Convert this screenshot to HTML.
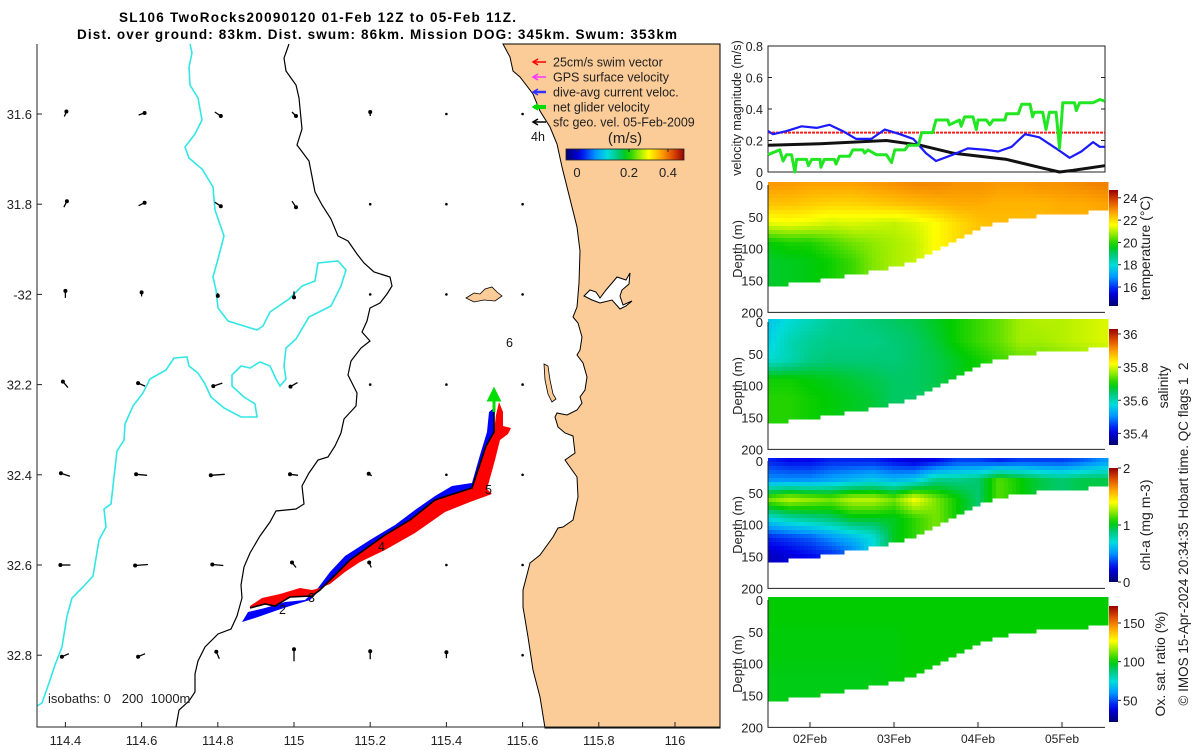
<!DOCTYPE html>
<html><head><meta charset="utf-8"><title>SL106 TwoRocks glider</title>
<style>
html,body{margin:0;padding:0;background:#fff;width:1200px;height:750px;overflow:hidden}
svg{display:block;font-family:"Liberation Sans","DejaVu Sans",sans-serif}
</style></head>
<body>
<svg id="fig" width="1200" height="750" viewBox="0 0 1200 750">
<text x="119" y="22" font-size="13.5" font-weight="bold" textLength="397">SL106 TwoRocks20090120 01-Feb 12Z to 05-Feb 11Z.</text>
<text x="77" y="39" font-size="13.5" font-weight="bold" textLength="600">Dist. over ground: 83km. Dist. swum: 86km. Mission DOG: 345km. Swum: 353km</text>
<g id="map"></g>
<g id="vel"></g>
<g id="sec"></g>
<text transform="translate(1188,534) rotate(-90)" font-size="13.5" text-anchor="middle" fill="#222" style="white-space:pre">© IMOS 15-Apr-2024 20:34:35 Hobart time. QC flags 1  2</text>
</svg>
<script>
// ---------------- DATA ----------------
const lonTicks=[114.4,114.6,114.8,115,115.2,115.4,115.6,115.8,116];
const latTicks=[31.6,31.8,32.0,32.2,32.4,32.6,32.8];
const latLabels=["31.6","31.8","-32","32.2","32.4","32.6","32.8"];
const arrowLons=[114.4,114.6,114.8,115,115.2,115.4,115.6];
const arrowU=[[2,6,6,4,0,0,0],[3,6,6,4,0,0,0],[0,0,0,0,0,0,0],[-5,-7,-9,-7,0,0,0],[-9,-11,-14,-8,-3,0,0],[-10,-13,-11,-4,-2,0,0],[-7,-7,-3,0,0,0,0]];
const arrowV=[[5,2,-4,-4,4,0,0],[6,3,-4,-6,0,0,0],[7,4,-3,-6,0,0,0],[6,3,-3,-4,0,0,0],[3,1,-1,1,2,0,0],[0,-1,1,5,5,0,0],[-3,-3,7,12,8,6,0]];
const netT=[1.50,1.64,1.68,1.72,1.78,1.82,1.84,1.96,1.98,2.02,2.12,2.13,2.17,2.29,2.31,2.35,2.47,2.51,2.63,2.65,2.69,2.79,2.91,2.97,3.01,3.13,3.17,3.29,3.33,3.46,3.50,3.64,3.66,3.78,3.80,3.84,3.94,3.98,4.00,4.10,4.14,4.18,4.32,4.34,4.48,4.52,4.62,4.65,4.67,4.77,4.81,4.85,4.93,4.97,5.01,5.15,5.17,5.21,5.37,5.45,5.51];
const netV=[0.11,0.14,0.07,0.11,0.11,0.00,0.08,0.08,0.04,0.08,0.08,0.03,0.08,0.08,0.05,0.10,0.10,0.14,0.14,0.12,0.14,0.11,0.11,0.06,0.14,0.14,0.17,0.17,0.25,0.25,0.33,0.33,0.30,0.33,0.29,0.35,0.35,0.27,0.33,0.33,0.30,0.33,0.33,0.37,0.37,0.43,0.43,0.35,0.38,0.38,0.27,0.38,0.38,0.15,0.44,0.44,0.39,0.44,0.44,0.46,0.45];
const curT=[1.50,1.56,1.72,1.90,2.08,2.23,2.39,2.55,2.73,2.89,3.07,3.23,3.38,3.50,3.70,3.88,4.10,4.24,4.40,4.56,4.73,4.93,5.09,5.23,5.37,5.45,5.51];
const curV=[0.26,0.24,0.26,0.29,0.28,0.30,0.26,0.21,0.21,0.27,0.24,0.21,0.12,0.07,0.11,0.15,0.14,0.13,0.16,0.24,0.22,0.15,0.09,0.13,0.19,0.16,0.16];
const geoT=[1.50,2.12,2.91,3.31,3.70,4.34,4.73,4.97,5.13,5.51];
const geoV=[0.17,0.18,0.20,0.17,0.12,0.08,0.03,0.00,0.01,0.04];
const swimV=0.25;
const velTicks=[0,0.2,0.4,0.6,0.8];
const secT=[1.5,1.75,2.0,2.25,2.5,2.75,3.0,3.25,3.5,3.75,4.0,4.25,4.5,4.75,5.0,5.25,5.5];
const bottomDepth=[155,152,148,143,138,132,125,115,100,82,66,55,48,45,42,40,37];
const knotDepth=[0,30,60,90,120,150];
const tempVals=[[22.8,22.3,21.4,19.7,19.4,19.4],[22.8,22.3,21.5,19.9,19.5,19.5],[22.7,22.2,21.4,19.9,19.6,19.6],[22.7,22.1,21.2,20.2,19.8,19.8],[22.7,22.1,21.3,20.5,20.1,20.1],[22.8,22.2,21.2,20.7,20.6,20.6],[22.9,22.3,21.1,20.9,20.9,20.9],[23.0,22.4,21.3,21.1,21.1,21.1],[23.0,22.5,21.6,21.6,21.6,21.6],[22.9,22.6,22.0,22.0,22.0,22.0],[22.9,22.6,22.3,22.3,22.3,22.3],[22.8,22.5,22.4,22.4,22.4,22.4],[22.8,22.5,22.4,22.4,22.4,22.4],[22.9,22.5,22.4,22.4,22.4,22.4],[22.9,22.6,22.5,22.5,22.5,22.5],[23.0,22.6,22.5,22.5,22.5,22.5],[23.1,22.7,22.6,22.6,22.6,22.6]];
const salVals=[[35.55,35.56,35.58,35.70,35.71,35.71],[35.58,35.60,35.60,35.70,35.71,35.71],[35.60,35.62,35.63,35.69,35.70,35.70],[35.62,35.63,35.64,35.68,35.69,35.69],[35.63,35.63,35.64,35.67,35.68,35.68],[35.64,35.63,35.64,35.66,35.67,35.67],[35.65,35.64,35.64,35.65,35.65,35.65],[35.66,35.65,35.65,35.65,35.65,35.65],[35.68,35.67,35.66,35.66,35.66,35.66],[35.70,35.70,35.68,35.68,35.68,35.68],[35.72,35.72,35.70,35.70,35.70,35.70],[35.74,35.74,35.72,35.72,35.72,35.72],[35.77,35.77,35.74,35.74,35.74,35.74],[35.78,35.77,35.74,35.74,35.74,35.74],[35.78,35.78,35.75,35.75,35.75,35.75],[35.79,35.79,35.76,35.76,35.76,35.76],[35.80,35.80,35.77,35.77,35.77,35.77]];
const chlVals=[[0.3,0.5,1.2,0.7,0.3,0.15],[0.25,0.5,1.3,0.8,0.35,0.2],[0.25,0.5,1.25,0.85,0.4,0.25],[0.3,0.55,1.2,0.9,0.5,0.3],[0.3,0.6,1.3,1.0,0.6,0.4],[0.3,0.65,1.3,1.0,0.7,0.7],[0.25,0.6,1.2,1.0,1.0,1.0],[0.2,0.65,1.4,1.1,1.1,1.1],[0.25,0.85,1.2,1.2,1.2,1.2],[0.35,0.85,1.05,1.05,1.05,1.05],[0.35,0.9,0.9,0.9,0.9,0.9],[0.3,1.15,1.15,1.15,1.15,1.15],[0.35,1.05,1.05,1.05,1.05,1.05],[0.35,0.95,0.95,0.95,0.95,0.95],[0.35,0.9,0.9,0.9,0.9,0.9],[0.4,0.95,0.95,0.95,0.95,0.95],[0.5,0.95,0.95,0.95,0.95,0.95]];
const oxVals=[[100,100,99,99,98,98],[100,100,99,99,98,98],[100,100,99,99,98,98],[100,100,99,99,98,98],[100,100,99,99,98,98],[100,100,99,99,98,98],[100,100,99,99,99,99],[100,100,100,100,100,100],[100,100,100,100,100,100],[100,100,100,100,100,100],[100,100,100,100,100,100],[100,100,100,100,100,100],[100,100,100,100,100,100],[100,100,100,100,100,100],[100,100,100,100,100,100],[100,100,100,100,100,100],[100,100,100,100,100,100]];
const dateLabels=["02Feb","03Feb","04Feb","05Feb"];
const dateDays=[2,3,4,5];

// ---------------- HELPERS ----------------
const NS="http://www.w3.org/2000/svg";
function mk(parent,tag,attrs,text){const e=document.createElementNS(NS,tag);for(const k in attrs)e.setAttribute(k,attrs[k]);if(text!==undefined)e.textContent=text;parent.appendChild(e);return e;}
const cmapStops=[[0,[0,0,110]],[0.12,[0,0,235]],[0.25,[0,150,255]],[0.35,[0,220,220]],[0.45,[0,200,110]],[0.52,[0,204,0]],[0.62,[150,235,0]],[0.7,[255,255,0]],[0.8,[255,170,0]],[0.9,[224,80,0]],[1,[150,0,0]]];
function jet(t){t=Math.max(0,Math.min(1,t));let i=0;while(i<cmapStops.length-2&&cmapStops[i+1][0]<t)i++;
 const a=cmapStops[i],b=cmapStops[i+1];const f=(t-a[0])/(b[0]-a[0]);
 const c=k=>Math.round(a[1][k]+(b[1][k]-a[1][k])*f);return `rgb(${c(0)},${c(1)},${c(2)})`;}
const lonX=lon=>294+(lon-115)*381;
const latY=lat=>114+(lat-31.6)*451;
const dayX=d=>810+(d-2)*84;

// ---------------- MAP ----------------
const map=document.getElementById('map');
const landPts="503,44 510,57 513,71 520,77 533,94 540,111 550,127 557,144 562,167 567,187 572,207 577,227 580,251 579,283 577,307 573,317 578,323 582,337 580,350 577,355 583,363 587,377 585,390 580,397 582,403 577,410 567,415 557,413 555,417 558,427 565,433 573,436 575,453 565,460 577,477 578,497 573,520 563,527 558,528 553,537 540,555 530,563 523,590 523,607 528,637 533,670 540,697 545,728 720,728 720,44";
let e=mk(map,'polygon',{points:landPts,fill:'#fbcb98',stroke:'#000','stroke-width':1});

e=mk(map,'polygon',{points:"584,296 590,290 596,292 600,298 606,290 612,283 617,277 626,280 630,273 629,284 622,290 620,296 623,305 632,301 626,306 620,309 612,300 600,303 592,300",fill:'#fff',stroke:'#000','stroke-width':1});

e=mk(map,'polygon',{points:"466,298 474,293 480,294 485,289 492,287 497,292 502,296 495,301 484,300 474,302",fill:'#fbcb98',stroke:'#000','stroke-width':0.8});

e=mk(map,'polygon',{points:"544,364 548,366 550,380 553,394 556,399 552,402 548,394 545,380",fill:'#fbcb98',stroke:'#000','stroke-width':0.8});

const cyanPts="190,44 192,53 189,67 190,85 198,98 202,120 195,134 185,147 189,158 202,169 213,187 215,210 224,236 218,259 213,277 216,290 218,308 228,321 244,326 257,330 263,326 270,312 289,299 302,286 315,281 318,263 338,261 346,270 341,286 331,306 309,317 296,339 286,348 284,366 286,379 280,386 276,379 270,366 260,362 250,368 241,366 232,375 232,386 244,397 255,404 257,417 241,417 224,408 211,397 205,384 198,373 189,366 187,357 174,358 166,370 150,379 143,393 133,406 125,424 124,440 117,451 114,477 111,504 104,509 106,527 99,540 93,576 83,587 72,598 67,616 62,647 55,665 49,683 42,703 37,706";
e=mk(map,'polyline',{points:cyanPts,fill:'none',stroke:'#33e6e6','stroke-width':1.6});

const blackPts="289,44 284,58 286,71 296,85 299,98 302,129 297,145 309,161 315,192 322,205 331,219 338,236 348,241 357,254 364,263 374,272 390,277 392,286 387,294 380,303 370,308 367,321 362,332 370,341 361,348 351,361 348,375 357,393 356,406 344,419 341,433 335,446 328,457 318,460 309,473 302,486 304,504 296,509 276,511 270,522 260,536 250,553 244,567 241,585 242,598 237,616 231,629 218,634 205,647 198,661 195,674 195,692 189,701 179,710 176,727";
e=mk(map,'polyline',{points:blackPts,fill:'none',stroke:'#000','stroke-width':1.2});

e=mk(map,'path',{d:'M37,44 V727 H720',fill:'none',stroke:'#222','stroke-width':1});

lonTicks.forEach(l=>{const x=lonX(l);mk(map,'line',{x1:x,x2:x,y1:727,y2:722,stroke:'#222'});
 const t=mk(map,'text',{x:x,y:745,'font-size':13,'text-anchor':'middle',fill:'#222'},String(l));
 });
latTicks.forEach((l,i)=>{const y=latY(l);mk(map,'line',{x1:37,x2:42,y1:y,y2:y,stroke:'#222'});
 const t=mk(map,'text',{x:32,y:y+5,'font-size':13,'text-anchor':'end',fill:'#222'},latLabels[i]);
 });
latTicks.forEach((lat,r)=>{arrowLons.forEach((lon,c)=>{const x=lonX(lon),y=latY(lat);const u=arrowU[r][c],v=arrowV[r][c];
 const g=mk(map,'g',{});
 
 if(u===0&&v===0){mk(g,'circle',{cx:x,cy:y,r:1.3,fill:'#000'});return;}
 mk(g,'line',{x1:x-u/2,y1:y+v/2,x2:x+u/2,y2:y-v/2,stroke:'#000','stroke-width':1.3});
 mk(g,'circle',{cx:x+u/2,cy:y-v/2,r:2,fill:'#000'});});});
e=mk(map,'polygon',{points:"242,622 248,612 265,608 285,602 305,600 318,588 330,572 345,556 370,540 395,525 415,510 435,496 452,486 472,483 480,455 487,432 489,412 494,408 495,430 490,445 478,488 460,492 440,503 410,523 385,537 355,560 335,578 320,590 310,600 290,606 275,611 258,617",fill:'#0000ff'});

e=mk(map,'polygon',{points:"250,606 262,598 280,594 300,588 312,590 320,588 330,584 345,572 360,562 385,550 415,533 445,512 470,502 492,494 487,489 495,460 500,440 508,434 511,428 503,426 503,412 499,402 496,415 494,432 486,446 472,488 450,495 435,500 410,520 385,535 350,560 335,575 320,590 312,596 290,597 275,606 265,604 250,608",fill:'#ff0000'});

e=mk(map,'polyline',{points:"250,608 265,604 275,606 290,597 312,596 320,590 335,575 350,560 385,535 410,520 435,500 450,495 472,488 486,446 494,432 494,412",fill:'none',stroke:'#000','stroke-width':1.6});

e=mk(map,'path',{d:'M494,412 V398 M489,400 L494,390 L499,400 Z',stroke:'#00dd00','stroke-width':3,fill:'#00dd00'});

[["2",279,614],["3",308,602],["4",378,551],["5",485,494],["6",506,347],["4h",531,141]].forEach(a=>{
 const t=mk(map,'text',{x:a[1],y:a[2],'font-size':12.5,fill:'#111'},a[0]);
 });
e=mk(map,'text',{x:48,y:703,'font-size':13,fill:'#222',style:'white-space:pre'},'isobaths: 0   200  1000m');

const legNames=["25cm/s swim vector","GPS surface velocity","dive-avg current veloc.","net glider velocity","sfc geo. vel. 05-Feb-2009"];
const legCols=["#ff0000","#ff33ff","#3333ff","#00dd00","#000"];
const legW=[1.5,1.5,2.5,4,1.5];
legNames.forEach((n,i)=>{const y=62+i*15;const g=mk(map,'g',{});
 
 mk(g,'line',{x1:534,x2:546,y1:y,y2:y,stroke:legCols[i],'stroke-width':legW[i]});
 mk(g,'path',{d:`M538,${y-3} L533,${y} L538,${y+3}`,fill:'none',stroke:legCols[i],'stroke-width':1.5});
 mk(g,'text',{x:553,y:y+4.5,'font-size':12.5,fill:'#222'},n);});
e=mk(map,'text',{x:625,y:143,'font-size':15,'text-anchor':'middle',fill:'#222'},'(m/s)');

const defs=mk(document.getElementById('fig'),'defs',{});
function jetGrad(id,vertical){const g=mk(defs,'linearGradient',{id:id,x1:0,y1:vertical?1:0,x2:vertical?0:1,y2:0});
 for(let i=0;i<=20;i++)mk(g,'stop',{offset:i/20,'stop-color':jet(i/20)});}
jetGrad('jh',false);jetGrad('jv',true);
e=mk(map,'rect',{x:566,y:149,width:118,height:11,fill:'url(#jh)',stroke:'#222','stroke-width':0.8});

[["0",577],["0.2",629],["0.4",668]].forEach(a=>{mk(map,'line',{x1:a[1],x2:a[1],y1:149,y2:152,stroke:'#222'});
 const t=mk(map,'text',{x:a[1],y:177,'font-size':13,'text-anchor':'middle',fill:'#222'},a[0]);
 });

// ---------------- VELOCITY PANEL ----------------
const vel=document.getElementById('vel');
const vY=v=>172-v*157.5;
e=mk(vel,'rect',{x:768,y:46,width:337,height:126,fill:'none',stroke:'#222','stroke-width':1});

velTicks.forEach(v=>{const y=vY(v);mk(vel,'line',{x1:768,x2:772,y1:y,y2:y,stroke:'#222'});mk(vel,'line',{x1:1101,x2:1105,y1:y,y2:y,stroke:'#222'});
 const t=mk(vel,'text',{x:763,y:y+5,'font-size':12.5,'text-anchor':'end',fill:'#222'},String(v));
 });
e=mk(vel,'text',{transform:'translate(741,108) rotate(-90)','font-size':12.5,'text-anchor':'middle',fill:'#222'},'velocity magnitude (m/s)');

function pline(T,V,col,w,dash,name){const p=T.map((t,i)=>dayX(t).toFixed(1)+','+vY(V[i]).toFixed(1)).join(' ');
 const l=mk(vel,'polyline',{points:p,fill:'none',stroke:col,'stroke-width':w,'stroke-linejoin':'round'});if(dash)l.setAttribute('stroke-dasharray',dash);
 }
pline([1.5,5.51],[swimV,swimV],'#ff2020',2,'3,1','swim-speed-line');
pline(geoT,geoV,'#111',3,null,'geo-velocity-line');
pline(curT,curV,'#1a1aff',2.2,null,'current-velocity-line');
pline(netT,netV,'#22e622',3,null,'net-velocity-line');

// ---------------- SECTIONS ----------------
const sec=document.getElementById('sec');
const panels=[
 {vals:tempVals,top:185,lo:14.3,hi:24.7,ticks:[16,18,20,22,24],tl:["16","18","20","22","24"],title:"temperature (°C)",tx:1150,cb:[190,306],name:'temperature'},
 {vals:salVals,top:322,lo:35.33,hi:36.03,ticks:[35.4,35.6,35.8,36],tl:["35.4","35.6","35.8","36"],title:"salinity",tx:1168,cb:[329,445],name:'salinity'},
 {vals:chlVals,top:461,lo:0,hi:2,ticks:[0,1,2],tl:["0","1","2"],title:"chl-a (mg m-3)",tx:1150,cb:[468,582],name:'chlorophyll'},
 {vals:oxVals,top:600,lo:22,hi:172,ticks:[50,100,150],tl:["50","100","150"],title:"Ox. sat. ratio (%)",tx:1165,cb:[606,722],name:'oxygen'}];
const SC=0.637;
function interpCol(vals,t,d){let i=0;while(i<secT.length-2&&secT[i+1]<t)i++;const f=Math.max(0,Math.min(1,(t-secT[i])/(secT[i+1]-secT[i])));
 const at=(c)=>{let k=0;while(k<knotDepth.length-2&&knotDepth[k+1]<d)k++;const g=Math.max(0,Math.min(1,(d-knotDepth[k])/(knotDepth[k+1]-knotDepth[k])));return vals[c][k]*(1-g)+vals[c][k+1]*g;};
 return at(i)*(1-f)+at(i+1)*f;}
function bottomAt(t){let i=0;while(i<secT.length-2&&secT[i+1]<t)i++;const f=Math.max(0,Math.min(1,(t-secT[i])/(secT[i+1]-secT[i])));return bottomDepth[i]*(1-f)+bottomDepth[i+1]*f;}
panels.forEach(P=>{
 const g=mk(sec,'g',{});
 
 const cw=4,ch=4;
 for(let x=768;x<1105;x+=cw){const t=1.5+(x+cw/2-768)/84;const bd=bottomAt(t);
  for(let y=P.top-3;y<P.top+bd*SC;y+=ch){const d=Math.max(0,(y+ch/2-P.top)/SC);
   mk(g,'rect',{x:x,y:y,width:cw+0.5,height:ch+0.5,fill:jet((interpCol(P.vals,t,d)-P.lo)/(P.hi-P.lo))});}}
 const bot=P.top+200*SC;
 const ax=mk(sec,'path',{d:`M768,${P.top} V${bot} H1105`,fill:'none',stroke:'#222','stroke-width':1});
 
 [0,50,100,150,200].forEach(dv=>{const y=P.top+dv*SC;const t=mk(sec,'text',{x:763,y:y+5,'font-size':13,'text-anchor':'end',fill:'#222'},String(dv));
  });
 const yt=mk(sec,'text',{transform:`translate(742,${P.top+64}) rotate(-90)`,'font-size':13,'text-anchor':'middle',fill:'#222'},'Depth (m)');
 
 const cb=mk(sec,'rect',{x:1109,y:P.cb[0],width:9,height:P.cb[1]-P.cb[0],fill:'url(#jv)'});
 
 P.ticks.forEach((v,i)=>{const y=P.cb[1]-(v-P.lo)/(P.hi-P.lo)*(P.cb[1]-P.cb[0]);
  mk(sec,'line',{x1:1118,x2:1121,y1:y,y2:y,stroke:'#222'});
  const t=mk(sec,'text',{x:1123,y:y+5,'font-size':13,fill:'#222'},P.tl[i]);
  });
 const ct=mk(sec,'text',{transform:`translate(${P.tx},${(P.cb[0]+P.cb[1])/2}) rotate(-90)`,'font-size':14,'text-anchor':'middle',fill:'#222'},P.title);
 
});
dateDays.forEach((d,i)=>{const x=dayX(d);mk(sec,'line',{x1:x,x2:x,y1:727,y2:722,stroke:'#222'});
 const t=mk(sec,'text',{x:x,y:743,'font-size':12,'text-anchor':'middle',fill:'#222'},dateLabels[i]);
 });
</script>
</body></html>
